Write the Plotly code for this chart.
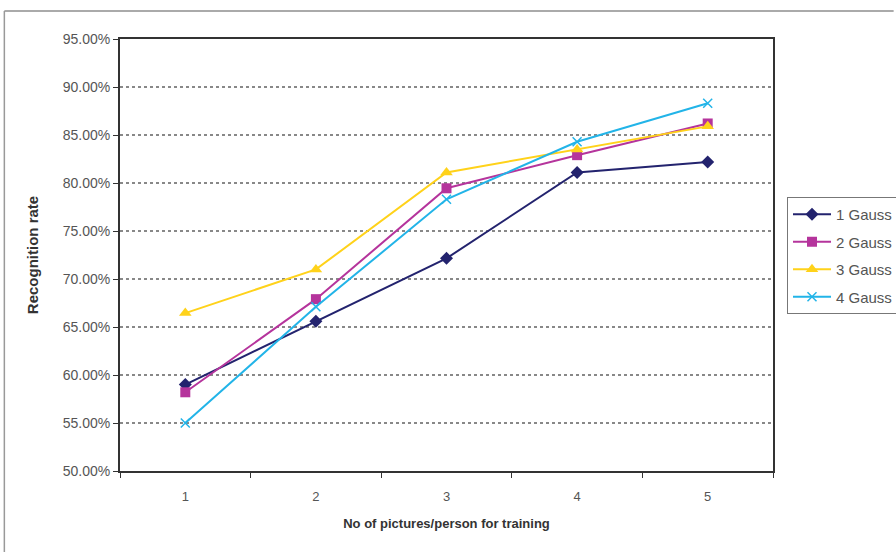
import plotly.graph_objects as go

categories = ["1", "2", "3", "4", "5"]
gauss1 = [59.0, 65.6, 72.15, 81.1, 82.2]
gauss2 = [58.2, 67.9, 79.45, 82.9, 86.2]
gauss3 = [66.45, 71.0, 81.1, 83.5, 85.9]
gauss4 = [55.0, 67.1, 78.3, 84.3, 88.3]
series_names = ["1 Gauss", "2 Gauss", "3 Gauss", "4 Gauss"]
y_ticks = [50, 55, 60, 65, 70, 75, 80, 85, 90, 95]

W, H = 896, 552
L, R, T, B = 120, 775, 39, 471

colors = ["#23236e", "#b5349c", "#ffd21a", "#22b4e8"]
symbols = ["diamond", "square", "triangle-up", "x-thin"]
sizes = [10, 10, 11, 9]

fig = go.Figure()
for i, (name, vals) in enumerate(zip(series_names, [gauss1, gauss2, gauss3, gauss4])):
    fig.add_trace(go.Scatter(
        x=categories, y=vals, name=name, mode="lines+markers",
        legendgroup=name,
        line=dict(color=colors[i], width=2),
        marker=dict(symbol=symbols[i], size=sizes[i], color=colors[i],
                    line=dict(color=colors[i], width=1.5 if i == 3 else 0)),
    ))

def px_x(px):
    return (px - L) / (R - L)

def px_y(py):
    return (B - py) / (B - T)

fig.update_layout(
    width=W, height=H,
    margin=dict(l=L, r=W - R, t=T, b=H - B),
    paper_bgcolor="white", plot_bgcolor="white",
    font=dict(family="Liberation Sans, Arial, sans-serif", size=13, color="#444"),
    showlegend=True,
    legend=dict(xref="container", yref="container", x=787 / W, y=1 - 197 / H,
                xanchor="left", yanchor="top",
                bordercolor="#777", borderwidth=1, tracegroupgap=5, itemwidth=38,
                font=dict(size=15, color="#555"), bgcolor="white"),
    xaxis=dict(type="category", range=[-0.5, 4.5], showgrid=False, ticks="outside",
               tickson="boundaries",
               ticklen=5, tickcolor="#333", showline=True, linecolor="#333", linewidth=2,
               mirror=True, ticklabelstandoff=12, tickfont=dict(size=13, color="#555"),
               title=dict(text="<b>No of pictures/person for training</b>", standoff=16,
                          font=dict(size=13, color="#333"))),
    yaxis=dict(range=[50, 95], tickvals=y_ticks, ticktext=[f"{v:.2f}%" for v in y_ticks],
               showgrid=True, gridcolor="#888", griddash="dot", gridwidth=1.5,
               ticks="outside", ticklen=5, tickcolor="#333",
               showline=True, linecolor="#333", linewidth=2, mirror=True,
               zeroline=False, tickfont=dict(size=14, color="#555"),
               title=dict(text="<b>Recognition rate</b>", standoff=20,
                          font=dict(size=15, color="#333"))),
    shapes=[
        dict(type="line", xref="paper", yref="paper", x0=px_x(4), x1=px_x(896),
             y0=px_y(11), y1=px_y(11), line=dict(color="#aaa", width=2)),
        dict(type="line", xref="paper", yref="paper", x0=px_x(4), x1=px_x(4),
             y0=px_y(11), y1=px_y(552), line=dict(color="#999", width=1.5)),
    ],
)

fig.write_html("out.html")
